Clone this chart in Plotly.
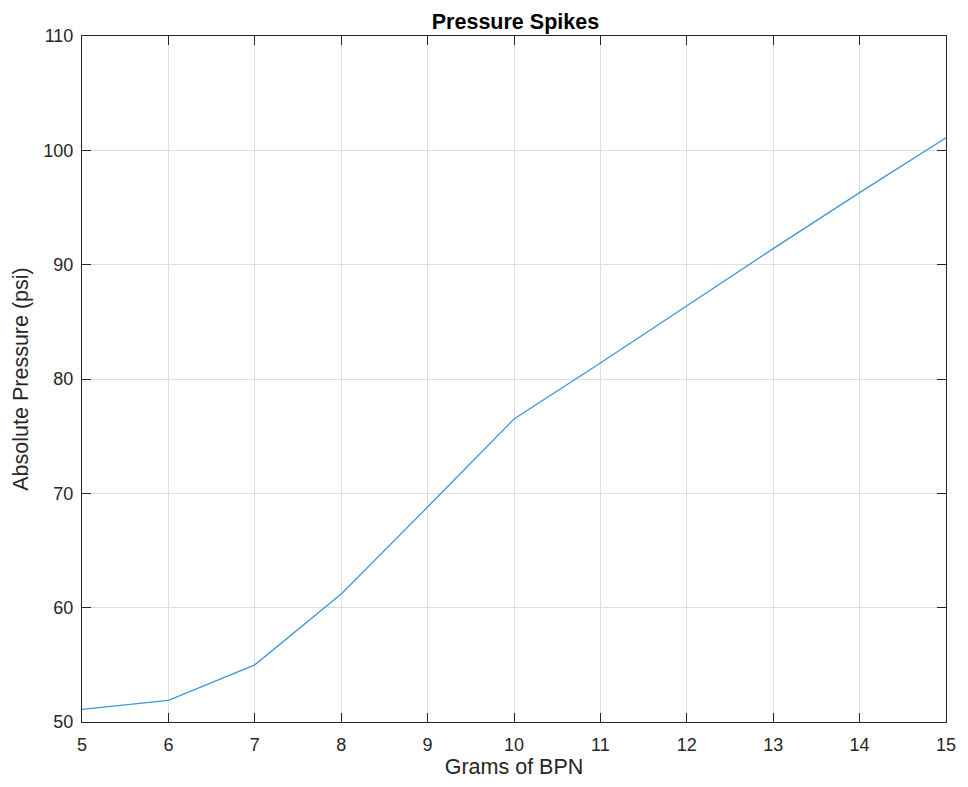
import plotly.graph_objects as go

# Grams of BPN vs. measured absolute pressure
grams = [5, 6, 7, 8, 9, 10, 11, 12, 13, 14, 15]
pressure_psi = [51.1, 51.9, 55.0, 61.2, 68.8, 76.5, 81.4, 86.4, 91.4, 96.3, 101.1]

x_ticks = list(range(5, 16))
y_ticks = [50, 60, 70, 80, 90, 100, 110]

FONT = "Liberation Sans, Arial, Helvetica, sans-serif"
INK = "#262626"

fig = go.Figure()
fig.add_trace(go.Scatter(
    x=grams, y=pressure_psi, mode="lines",
    line=dict(color="#3f96d6", width=1.3),
    showlegend=False,
))

axis_common = dict(
    showline=True, linecolor=INK, linewidth=1,
    mirror="ticks", ticks="inside", ticklen=9, tickcolor=INK,
    showgrid=True, gridcolor="#dedede", gridwidth=1,
    zeroline=False,
    tickfont=dict(family=FONT, size=18, color=INK),
)

fig.update_xaxes(
    range=[5, 15], tickvals=x_ticks, ticklabelstandoff=6,
    title=dict(text="Grams of BPN", standoff=4,
               font=dict(family=FONT, size=21.5, color=INK)),
    **axis_common,
)
fig.update_yaxes(
    range=[50, 110], tickvals=y_ticks, ticklabelstandoff=4,
    title=dict(text="Absolute Pressure (psi)", standoff=8,
               font=dict(family=FONT, size=21.5, color=INK)),
    **axis_common,
)

fig.update_layout(
    width=968, height=787,
    margin=dict(l=82, r=18, t=36, b=65),
    paper_bgcolor="white", plot_bgcolor="white",
    title=dict(text="<b>Pressure Spikes</b>", x=0.5325, xanchor="center",
               y=1 - 21 / 787, yanchor="middle",
               font=dict(family=FONT, size=21.5, color="black")),
)

fig.write_html("out.html")
